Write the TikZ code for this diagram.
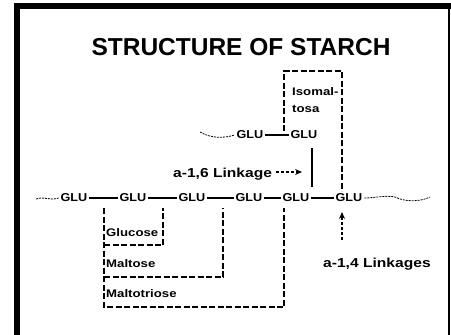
\documentclass[tikz,border=0pt]{standalone}
\usepackage{fontspec}
\setmainfont{Liberation Sans}
\newfontfamily\lblfont[FakeStretch=1.2]{Liberation Sans Bold}
\newfontfamily\glufont[FakeStretch=1.1]{Liberation Sans Bold}
\usetikzlibrary{arrows.meta}
\begin{document}
\begin{tikzpicture}[x=1pt,y=-1pt,
  glu/.style={font=\glufont\fontsize{11.5}{13}\selectfont, inner sep=2pt, outer sep=0pt},
  small/.style={font=\lblfont\fontsize{11}{13}\selectfont, inner sep=0pt, anchor=base west},
  lnk/.style={font=\lblfont\fontsize{13}{15}\selectfont, inner sep=0pt, anchor=base west},
  bond/.style={line width=2.2pt},
  dbox/.style={line width=2.2pt, dash pattern=on 6pt off 2.5pt},
  tailline/.style={line width=0.8pt, dash pattern=on 2pt off 1pt},
  darrow/.style={line width=1.6pt, dash pattern=on 3pt off 2pt, -{Stealth[length=7pt,width=6pt]}},
]
\useasboundingbox (0,0) rectangle (451,335);
% frame
\fill (14,3) rectangle (20,335);
\fill (14,3) rectangle (451,9);
\fill (448,3) rectangle (450,335);
% title
\node[font=\bfseries\fontsize{24.5}{28}\selectfont, anchor=base, inner sep=0pt] (title) at (241,55) {STRUCTURE OF STARCH};
% main chain
\node[glu] (g1) at (74,198) {GLU};
\node[glu] (g2) at (133,198) {GLU};
\node[glu] (g3) at (192,198) {GLU};
\node[glu] (g4) at (249,198) {GLU};
\node[glu] (g5) at (296,198) {GLU};
\node[glu] (g6) at (349,198) {GLU};
\draw[bond] (g1) -- (g2);
\draw[bond] (g2) -- (g3);
\draw[bond] (g3) -- (g4);
\draw[bond] (g4) -- (g5);
\draw[bond] (g5) -- (g6);
% branch
\node[glu] (ga) at (250,135) {GLU};
\node[glu] (gb) at (304,135) {GLU};
\draw[bond] (ga) -- (gb);
\coordinate (b16top) at (312,148);
\coordinate (b16bot) at (312,187);
\draw[line width=2.5pt] (b16top) -- (b16bot);
% tails
\coordinate (t1) at (36,199);
\draw[tailline] (t1) .. controls (44,196) and (50,201) .. (g1.west);
\coordinate (t2) at (200,132);
\draw[tailline] (t2) .. controls (212,139) and (225,138) .. (ga.west);
\coordinate (t3) at (430,197);
\draw[tailline] (g6.east) .. controls (375,198) and (385,195) .. (395,197) .. controls (405,202) and (420,202) .. (t3);
% isomaltose box
\draw[dbox] (284,131) -- (284,71) -- (342,71) -- (342,191);
\node[small] (iso1) at (292,95) {Isomal-};
\node[small] (iso2) at (292,112) {tosa};
% boxes below
\draw[dbox] (104,208) -- (104,307) -- (284,307) -- (284,208);
\draw[dbox] (104,245) -- (163,245) -- (163,208);
\draw[dbox] (104,277) -- (223,277) -- (223,208);
\node[small] (glc) at (106,236) {Glucose};
\node[small] (mal) at (106,267) {Maltose};
\node[small] (mtr) at (106,297) {Maltotriose};
% linkage labels
\node[lnk] (l16) at (173,177) {a-1,6 Linkage};
\coordinate (a16tail) at (276,172);
\coordinate (a16end) at (302,172);
\draw[darrow] (a16tail) -- (a16end);
\node[lnk] (l14) at (323,267) {a-1,4 Linkages};
\coordinate (a14tail) at (342,240);
\coordinate (a14tip) at (342,212);
\draw[darrow] (a14tail) -- (a14tip);
\end{tikzpicture}
\end{document}
